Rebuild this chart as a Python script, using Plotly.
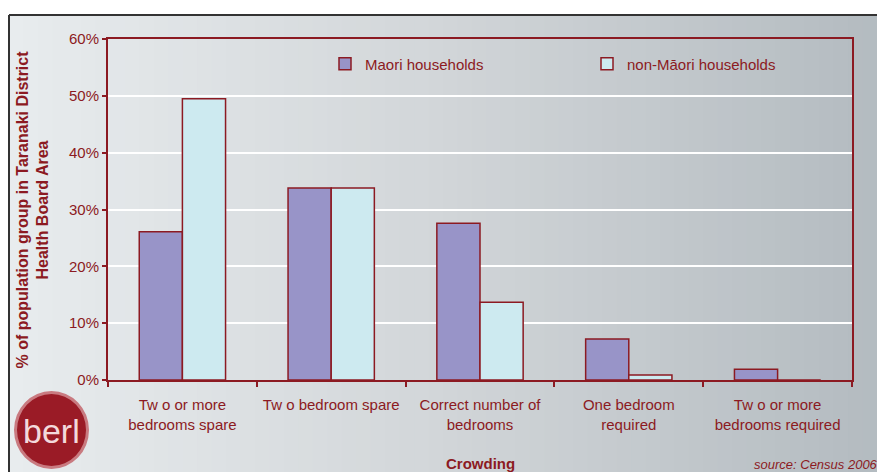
import plotly.graph_objects as go

# Crowding categories and share of each population group (%)
categories = [
    "Tw o or more<br>bedrooms spare",
    "Tw o bedroom spare",
    "Correct number of<br>bedrooms",
    "One bedroom<br>required",
    "Tw o or more<br>bedrooms required",
]
maori = [26.1, 33.8, 27.6, 7.2, 1.9]
non_maori = [49.5, 33.8, 13.7, 0.9, 0.0]
y_ticks = [0, 10, 20, 30, 40, 50, 60]
y_tick_labels = ["0%", "10%", "20%", "30%", "40%", "50%", "60%"]

W, H = 877, 472
L, R, T, B = 108, 25, 39, 92
RED = "#8C1A22"
FONT = "Liberation Sans, Arial, sans-serif"


def px(x):
    return (x - L) / (W - L - R)


def py(y):
    return (H - B - y) / (H - T - B)


fig = go.Figure()
fig.add_trace(go.Bar(
    name="Maori households", x=categories, y=maori,
    marker=dict(color="#9894C8", line=dict(color=RED, width=1.5)),
))
fig.add_trace(go.Bar(
    name="non-Māori households", x=categories, y=non_maori,
    marker=dict(color="#CDEAF0", line=dict(color=RED, width=1.5)),
))

shapes = []
# Soft grey backdrop, lighter on the left and darker to the right
n = 60
left_col = (232, 236, 238)
mid_col = (210, 214, 217)
right_col = (180, 188, 193)
x_start, x_end = 9, W
for i in range(n):
    t = i / (n - 1)
    if t < 0.5:
        a, b, u = left_col, mid_col, t / 0.5
    else:
        a, b, u = mid_col, right_col, (t - 0.5) / 0.5
    c = tuple(int(a[k] + (b[k] - a[k]) * u) for k in range(3))
    x0 = x_start + (x_end - x_start) * i / n
    x1 = x_start + (x_end - x_start) * (i + 1) / n + 1
    shapes.append(dict(type="rect", xref="paper", yref="paper", layer="below",
                       x0=px(x0), x1=px(x1), y0=py(H), y1=py(15),
                       fillcolor="rgb(%d,%d,%d)" % c, line=dict(width=0)))
# Outer frame lines
shapes.append(dict(type="line", xref="paper", yref="paper", x0=px(9), x1=px(W),
                   y0=py(15), y1=py(15), line=dict(color="#333333", width=2)))
shapes.append(dict(type="line", xref="paper", yref="paper", x0=px(9), x1=px(9),
                   y0=py(15), y1=py(H), line=dict(color="#333333", width=2)))
# Logo badge
shapes.append(dict(type="circle", xref="paper", yref="paper",
                   x0=px(14), x1=px(89), y0=py(469), y1=py(391),
                   fillcolor="#C97A80", line=dict(width=0)))
shapes.append(dict(type="circle", xref="paper", yref="paper",
                   x0=px(17), x1=px(86), y0=py(466), y1=py(394),
                   fillcolor="#9A1B26", line=dict(width=0)))

annotations = [
    dict(text="berl", xref="paper", yref="paper", x=px(51), y=py(431),
         xanchor="center", yanchor="middle", showarrow=False,
         font=dict(family=FONT, size=34, color="#F3D9DC")),
    dict(text="source: Census 2006", xref="paper", yref="paper", x=px(752), y=py(464),
         xanchor="left", yanchor="middle", showarrow=False,
         font=dict(family=FONT, size=13, color=RED, style="italic")),
    # Axis titles
    dict(text="<b>Crowding</b>", xref="paper", yref="paper", x=0.5, y=py(463),
         xanchor="center", yanchor="middle", showarrow=False,
         font=dict(family=FONT, size=15, color=RED)),
    dict(text="<b>% of population group in Taranaki District<br>Health Board Area</b>",
         xref="paper", yref="paper", x=px(32), y=0.5, textangle=-90,
         xanchor="center", yanchor="middle", showarrow=False,
         font=dict(family=FONT, size=16, color=RED)),
]

fig.update_layout(
    width=W, height=H,
    margin=dict(l=L, r=R, t=T, b=B),
    paper_bgcolor="white",
    plot_bgcolor="rgba(0,0,0,0)",
    barmode="group",
    bargap=0.42,
    bargroupgap=0,
    font=dict(family=FONT, color=RED, size=15),
    showlegend=True,
    legend=dict(orientation="h", x=px(325), y=py(64), xanchor="left", yanchor="middle",
                bgcolor="rgba(0,0,0,0)", entrywidth=217, entrywidthmode="pixels",
                itemwidth=30, font=dict(size=15, color=RED)),
    shapes=shapes,
    annotations=annotations,
    xaxis=dict(
        automargin=False,
        showline=True, linecolor=RED, linewidth=2, mirror=True,
        ticks="outside", tickson="boundaries", ticklen=5, tickcolor=RED, tickwidth=2,
        ticklabelstandoff=10,
        tickfont=dict(size=15, color=RED),
    ),
    yaxis=dict(
        automargin=False,
        range=[0, 60], tickvals=y_ticks, ticktext=y_tick_labels,
        showline=True, linecolor=RED, linewidth=2, mirror=True,
        ticks="outside", ticklen=4, tickcolor=RED, tickwidth=2,
        showgrid=True, gridcolor="white", gridwidth=1.5, zeroline=False,
        tickfont=dict(size=15, color=RED),
    ),
)

fig.write_html("out.html")
